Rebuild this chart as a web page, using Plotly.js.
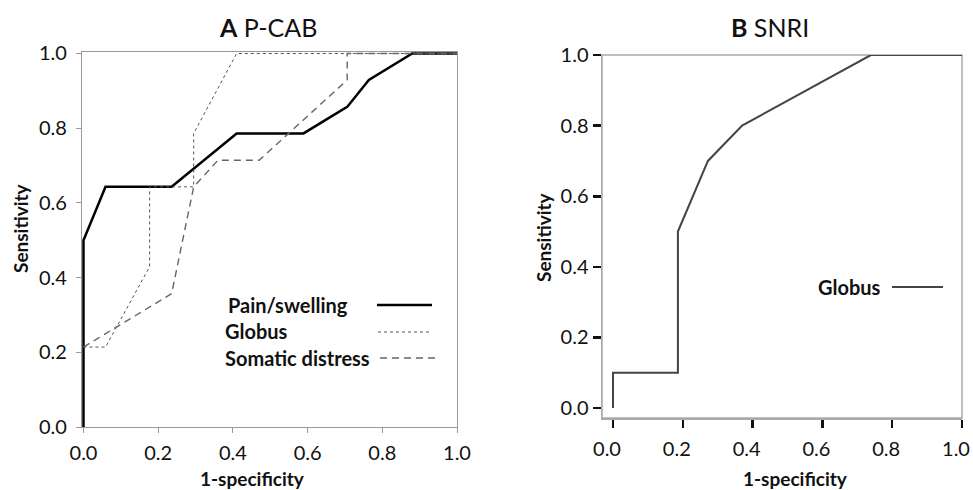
<!DOCTYPE html>
<html>
<head>
<meta charset="utf-8">
<script src="https://cdn.plot.ly/plotly-3.0.1.min.js"></script>
<style>html,body{margin:0;padding:0;background:#fff;overflow:hidden;}#chart{width:973px;height:490px;}</style>
</head>
<body>
<div id="chart"></div>
<script>
// ---- data ----
const tickValues = [0, 0.2, 0.4, 0.6, 0.8, 1.0];
const tickLabels = ["0.0", "0.2", "0.4", "0.6", "0.8", "1.0"];

const painX = [0, 0, 0.059, 0.236, 0.41, 0.589, 0.706, 0.764, 0.88, 1.0];
const painY = [0, 0.5, 0.643, 0.643, 0.786, 0.786, 0.857, 0.929, 1.0, 1.0];

const globusX = [0, 0.059, 0.177, 0.177, 0.295, 0.295, 0.41, 1.0];
const globusY = [0.214, 0.214, 0.429, 0.643, 0.643, 0.786, 1.0, 1.0];

const somaticX = [0, 0.236, 0.295, 0.36, 0.47, 0.706, 0.706, 1.0];
const somaticY = [0.214, 0.357, 0.643, 0.714, 0.714, 0.929, 1.0, 1.0];

const snriX = [0, 0, 0.186, 0.186, 0.272, 0.37, 0.739, 1.0];
const snriY = [0, 0.1, 0.1, 0.5, 0.7, 0.8, 1.0, 1.0];

// ---- layout helpers ----
const W = 973, H = 490;
const px = v => v / W;
const py = v => 1 - v / H;
const FONT = "Lato, Carlito, 'Open Sans', sans-serif";

const painStyle = {color: "#000", width: 2.5};
const globusStyle = {color: "#555", width: 1, dash: "dot"};
const somaticStyle = {color: "#666", width: 1.4, dash: "7px,5px"};
const snriStyle = {color: "#444", width: 2};

const traces = [
  {x: painX, y: painY, mode: "lines", line: painStyle, xaxis: "x", yaxis: "y", name: "Pain/swelling", showlegend: false},
  {x: globusX, y: globusY, mode: "lines", line: globusStyle, xaxis: "x", yaxis: "y", name: "Globus", showlegend: false},
  {x: somaticX, y: somaticY, mode: "lines", line: somaticStyle, xaxis: "x", yaxis: "y", name: "Somatic distress", showlegend: false},
  {x: snriX, y: snriY, mode: "lines", line: snriStyle, xaxis: "x2", yaxis: "y2", name: "Globus", showlegend: false}
];

const tickFont = {family: FONT, size: 20, color: "#111"};
const labFont = {family: FONT, size: 19, color: "#111"};
const legFont = {family: FONT, size: 20, color: "#111"};
const titleFont = {family: FONT, size: 25, color: "#111"};

const leftAxisCommon = {
  tickmode: "array", tickvals: tickValues, ticktext: tickLabels,
  showgrid: false, zeroline: false, showline: true, linecolor: "#999", linewidth: 1.2,
  mirror: true, ticks: "outside", ticklen: 5, tickcolor: "#999", tickwidth: 1,
  tickfont: tickFont, layer: "below traces", fixedrange: true, ticklabeloverflow: "allow"
};
const rightAxisCommon = {
  tickmode: "array", tickvals: tickValues, ticktext: tickLabels,
  showgrid: false, zeroline: false, showline: true, linecolor: "#aaa", linewidth: 1.5,
  mirror: false, ticks: "outside", ticklen: 8, tickcolor: "#111", tickwidth: 2.5,
  tickfont: tickFont, layer: "below traces", fixedrange: true, ticklabeloverflow: "allow"
};

const layout = {
  width: W, height: H,
  margin: {l: 0, r: 0, t: 0, b: 0},
  paper_bgcolor: "#fff", plot_bgcolor: "#fff",
  showlegend: false,
  font: {family: FONT, color: "#111"},
  xaxis: Object.assign({}, leftAxisCommon, {domain: [px(82), px(457)], range: [-0.004, 1.0], anchor: "y", ticklabelstandoff: 3}),
  yaxis: Object.assign({}, leftAxisCommon, {domain: [py(427), py(52)], range: [0, 1.004], anchor: "x", ticklabelstandoff: 5}),
  xaxis2: Object.assign({}, rightAxisCommon, {domain: [px(602), px(962)], range: [-0.0315, 1.0], anchor: "y2", ticklabelstandoff: 4, ticklabelshift: -6}),
  yaxis2: Object.assign({}, rightAxisCommon, {domain: [py(418), py(55)], range: [-0.028, 1.0], anchor: "x2", ticklabelstandoff: 0}),
  annotations: [
    {text: "<b>A</b> P-CAB", x: px(268), y: py(27), xref: "paper", yref: "paper", showarrow: false, xanchor: "center", yanchor: "middle", font: titleFont},
    {text: "<b>B</b> SNRI", x: px(770), y: py(27), xref: "paper", yref: "paper", showarrow: false, xanchor: "center", yanchor: "middle", font: titleFont},
    {text: "<b>1-specificity</b>", x: px(252), y: py(478), xref: "paper", yref: "paper", showarrow: false, xanchor: "center", yanchor: "middle", font: labFont},
    {text: "<b>1-specificity</b>", x: px(795), y: py(478), xref: "paper", yref: "paper", showarrow: false, xanchor: "center", yanchor: "middle", font: labFont},
    {text: "<b>Sensitivity</b>", x: px(20), y: py(228), xref: "paper", yref: "paper", showarrow: false, textangle: -90, xanchor: "center", yanchor: "middle", font: labFont},
    {text: "<b>Sensitivity</b>", x: px(543), y: py(237), xref: "paper", yref: "paper", showarrow: false, textangle: -90, xanchor: "center", yanchor: "middle", font: labFont},
    {text: "<b>Pain/swelling</b>", x: px(226), y: py(305), xref: "paper", yref: "paper", showarrow: false, xanchor: "left", yanchor: "middle", font: legFont},
    {text: "<b>Globus</b>", x: px(223), y: py(331), xref: "paper", yref: "paper", showarrow: false, xanchor: "left", yanchor: "middle", font: legFont},
    {text: "<b>Somatic distress</b>", x: px(223), y: py(358), xref: "paper", yref: "paper", showarrow: false, xanchor: "left", yanchor: "middle", font: legFont},
    {text: "<b>Globus</b>", x: px(816), y: py(287), xref: "paper", yref: "paper", showarrow: false, xanchor: "left", yanchor: "middle", font: legFont}
  ],
  shapes: [
    // frame of panel B (top and right edges in light gray)
    {type: "rect", xref: "x2 domain", yref: "y2 domain", x0: 0, x1: 1, y0: 0, y1: 1, line: {color: "#aaa", width: 1.5}, layer: "below"},
    {type: "line", xref: "paper", yref: "paper", x0: px(377), x1: px(432), y0: py(305), y1: py(305), line: painStyle},
    {type: "line", xref: "paper", yref: "paper", x0: px(378), x1: px(432), y0: py(332), y1: py(332), line: globusStyle},
    {type: "line", xref: "paper", yref: "paper", x0: px(380), x1: px(435), y0: py(358), y1: py(358), line: somaticStyle},
    {type: "line", xref: "paper", yref: "paper", x0: px(892), x1: px(943), y0: py(287), y1: py(287), line: snriStyle}
  ]
};

Plotly.newPlot("chart", traces, layout, {staticPlot: true, displayModeBar: false});
</script>
</body>
</html>
